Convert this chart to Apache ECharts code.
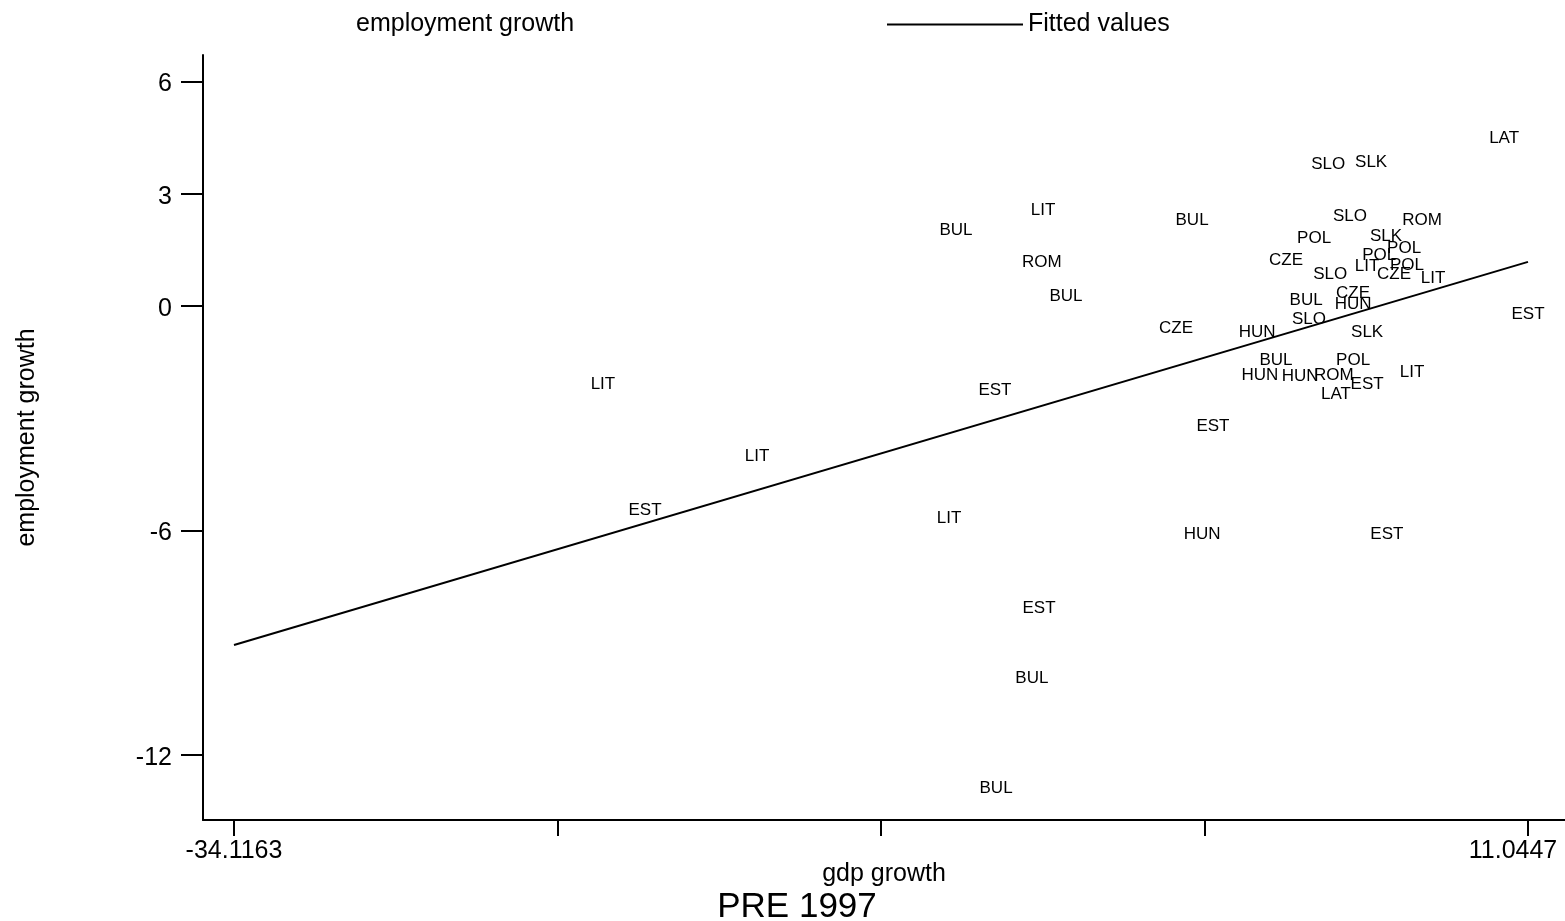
<!DOCTYPE html>
<html>
<head>
<meta charset="utf-8">
<title>PRE 1997</title>
<script src="https://cdn.jsdelivr.net/npm/echarts@6/dist/echarts.min.js"></script>
<style>
  html, body { margin: 0; padding: 0; background: #fff; }
  #chart { width: 1565px; height: 921px; }
</style>
</head>
<body>
<div id="chart"></div>
<script>
// Country code for each observation
const countries = [
  'LAT', 'SLO', 'SLK', 'LIT', 'BUL', 'BUL', 'SLO', 'ROM', 'POL', 'SLK',
  'POL', 'CZE', 'ROM', 'POL', 'LIT', 'POL', 'SLO', 'CZE', 'LIT', 'BUL',
  'BUL', 'CZE', 'HUN', 'EST', 'SLO', 'CZE', 'HUN', 'SLK', 'BUL', 'POL',
  'HUN', 'HUN', 'ROM', 'LIT', 'EST', 'LAT', 'LIT', 'EST', 'EST', 'LIT',
  'EST', 'LIT', 'HUN', 'EST', 'EST', 'BUL', 'BUL'
];
// GDP growth (x)
const gdpGrowth = [
  10.21, 4.07, 5.57, -5.88, -8.92, -0.68, 4.83, 7.35, 3.58, 6.09,
  6.72, 2.60, -5.92, 5.85, 5.43, 6.82, 4.14, 6.37, 7.73, -5.08,
  3.30, 4.94, 4.94, 11.0447, 3.40, -1.24, 1.59, 5.43, 2.25, 4.94,
  1.69, 3.09, 4.27, 7.00, 5.43, 4.34, -21.24, -7.56, 0.05, -15.86,
  -19.77, -9.16, -0.33, 6.12, -6.02, -6.27, -7.52
];
// Employment growth (y)
const empGrowth = [
  4.49, 3.80, 3.85, 2.57, 2.03, 2.30, 2.41, 2.30, 1.82, 1.87,
  1.55, 1.23, 1.18, 1.36, 1.07, 1.10, 0.86, 0.86, 0.75, 0.27,
  0.16, 0.35, 0.05, -0.21, -0.35, -0.59, -0.70, -0.70, -1.44, -1.44,
  -1.84, -1.87, -1.84, -1.76, -2.09, -2.35, -2.09, -2.25, -3.21, -4.01,
  -5.45, -5.67, -6.10, -6.10, -8.07, -9.95, -12.89
];
// Linear fit over the range of GDP growth
const fitX = [-34.1163, 11.0447];
const fitY = [-9.06, 1.18];

// Axis ticks and labels
const xTicks = [-34.1163, -22.826025, -11.53575, -0.245475, 11.0447];
const xLabels = [-34.1163, 11.0447];
const yTicks = [-12, -6, 0, 3, 6];

const FONT = '"Liberation Sans", Arial, Helvetica, sans-serif';

const points = countries.map((c, i) => ({ name: c, value: [gdpGrowth[i], empGrowth[i]] }));
const fitLine = fitX.map((x, i) => [x, fitY[i]]);

const chart = echarts.init(document.getElementById('chart'), null, { renderer: 'canvas' });

chart.setOption({
  animation: false,
  backgroundColor: '#ffffff',
  textStyle: { fontFamily: FONT, color: '#000' },
  title: {
    text: 'PRE 1997',
    left: 792,
    top: 885,
    textAlign: 'center',
    textStyle: { fontFamily: FONT, fontSize: 35, fontWeight: 'normal', color: '#000' }
  },
  legend: [
    {
      data: [{ name: 'employment growth', icon: 'none' }],
      left: 346,
      top: 7,
      itemWidth: 0,
      itemHeight: 2,
      itemGap: 5,
      selectedMode: false,
      textStyle: { fontFamily: FONT, fontSize: 25, color: '#000' }
    },
    {
      data: [{ name: 'Fitted values', icon: 'rect' }],
      left: 882,
      top: 7,
      itemWidth: 136,
      itemHeight: 2,
      itemGap: 5,
      selectedMode: false,
      itemStyle: { color: '#000', borderWidth: 0 },
      textStyle: { fontFamily: FONT, fontSize: 25, color: '#000' }
    }
  ],
  grid: { left: 203, right: 0, top: 55, bottom: 101, containLabel: false },
  xAxis: {
    type: 'value',
    min: -35.1982,
    max: 12.336,
    name: 'gdp growth',
    nameLocation: 'middle',
    nameGap: 42,
    nameMoveOverlap: false,
    nameTextStyle: { fontFamily: FONT, fontSize: 25, color: '#000' },
    splitLine: { show: false },
    axisLine: { show: true, onZero: false, lineStyle: { color: '#000', width: 2 } },
    axisTick: {
      show: true, inside: false, length: 16,
      customValues: xTicks,
      lineStyle: { color: '#000', width: 2 }
    },
    axisLabel: {
      show: true,
      margin: 19,
      customValues: xLabels,
      fontFamily: FONT, fontSize: 25, color: '#000',
      formatter: function (v) {
        if (v > 0) return '{r|' + v.toFixed(4) + '}';
        return v.toFixed(4);
      },
      rich: { r: { fontFamily: FONT, fontSize: 25, color: '#000', padding: [0, 30, 0, 0] } }
    }
  },
  yAxis: {
    type: 'value',
    min: -13.736,
    max: 6.708,
    name: 'employment growth',
    nameLocation: 'middle',
    nameGap: 163,
    nameMoveOverlap: false,
    nameRotate: 90,
    nameTextStyle: { fontFamily: FONT, fontSize: 25, color: '#000' },
    splitLine: { show: false },
    axisLine: { show: true, onZero: false, lineStyle: { color: '#000', width: 2 } },
    axisTick: {
      show: true, inside: false, length: 22,
      customValues: yTicks,
      lineStyle: { color: '#000', width: 2 }
    },
    axisLabel: {
      show: true,
      margin: 31,
      customValues: yTicks,
      fontFamily: FONT, fontSize: 25, color: '#000',
      formatter: function (v) { return '{t|' + v + '}'; },
      rich: { t: { fontFamily: FONT, fontSize: 25, color: '#000', padding: [6, 0, 0, 0] } }
    }
  },
  series: [
    {
      name: 'employment growth',
      type: 'scatter',
      symbol: 'circle',
      symbolSize: 0,
      data: points,
      itemStyle: { color: '#000', opacity: 1 },
      label: {
        show: true,
        position: 'inside',
        formatter: '{b}',
        fontFamily: FONT,
        fontSize: 17,
        color: '#000',
        opacity: 1,
        textBorderWidth: 0
      },
      emphasis: { disabled: true },
      z: 3
    },
    {
      name: 'Fitted values',
      type: 'line',
      data: fitLine,
      symbol: 'none',
      lineStyle: { color: '#000', width: 2 },
      itemStyle: { color: '#000' },
      emphasis: { disabled: true },
      z: 2
    }
  ]
});
</script>
</body>
</html>
